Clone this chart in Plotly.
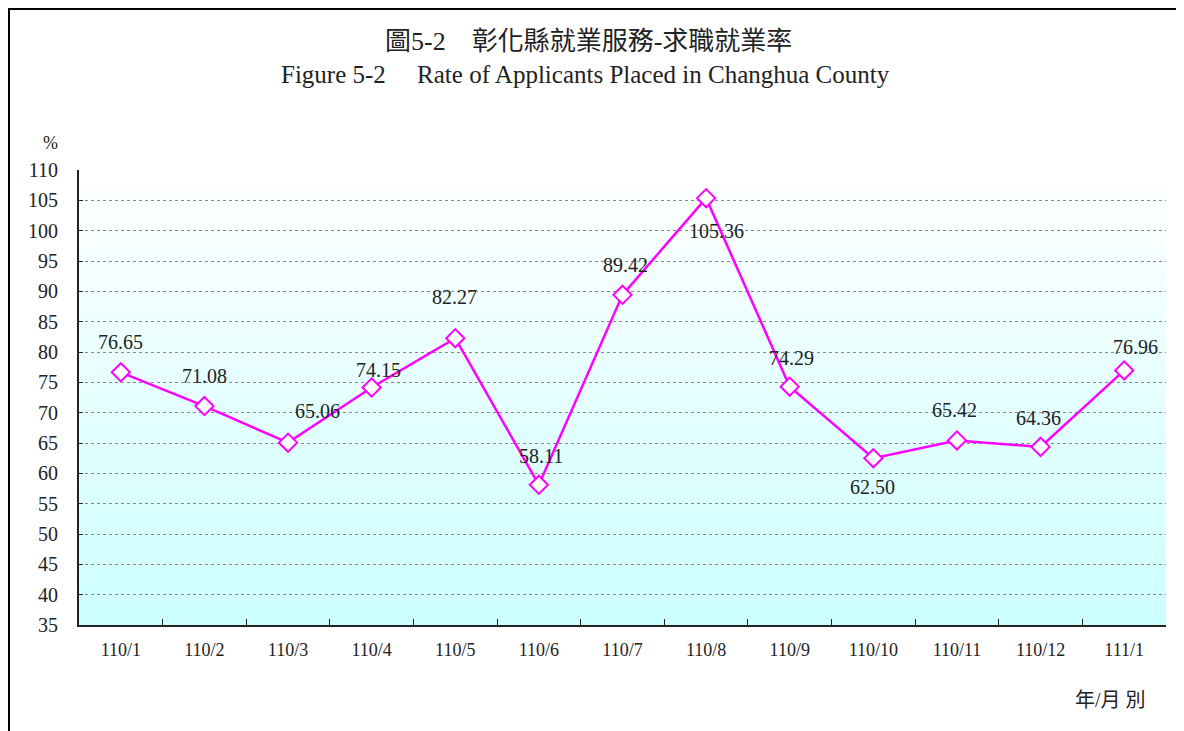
import plotly.graph_objects as go

categories = ["110/1", "110/2", "110/3", "110/4", "110/5", "110/6", "110/7",
              "110/8", "110/9", "110/10", "110/11", "110/12", "111/1"]
rates = [76.65, 71.08, 65.06, 74.15, 82.27, 58.11, 89.42,
         105.36, 74.29, 62.50, 65.42, 64.36, 76.96]
y_ticks = list(range(35, 111, 5))

# label offsets (pixels) for data labels
label_dx = [0, 0, 29, 7, -1, 2, 3, 10, 2, -1, -2, -2, 11]
label_dy = [30, 30, 32, 17, 41, 29, 30, -33, 29, -29, 30, 29, 23]

SERIF = "Liberation Serif"
CJK = "Liberation Serif, Noto Sans CJK TC"

# page body has an 8px margin, so the figure is drawn 8px in from the window
W, H = 1176, 723

fig = go.Figure()
fig.add_trace(go.Scatter(
    x=categories, y=rates, mode="lines+markers",
    line=dict(color="#FF00FF", width=2.5),
    marker=dict(symbol="diamond", size=14, color="white",
                line=dict(color="#FF00FF", width=2)),
    hoverinfo="x+y", showlegend=False,
))

# gradient plot background: white at top -> light cyan at bottom
n = 60
shapes = []
for i in range(n):
    t = (i + 0.5) / n  # 0 bottom .. 1 top
    r = int(round(0xCC + (0xFF - 0xCC) * t))
    col = f"rgb({r},255,255)"
    shapes.append(dict(type="rect", xref="x domain", yref="y domain",
                       x0=0, x1=1, y0=i / n, y1=(i + 1) / n + 0.002,
                       fillcolor=col, line=dict(width=0), layer="below"))
# outer frame lines (top and left), at the very edge of the figure
shapes.append(dict(type="line", xref="paper", yref="paper",
                   x0=(9 - 79) / 1087, x1=(1190 - 79) / 1087,
                   y0=(625 - 9) / 455, y1=(625 - 9) / 455,
                   line=dict(color="black", width=2)))
shapes.append(dict(type="line", xref="paper", yref="paper",
                   x0=(9 - 79) / 1087, x1=(9 - 79) / 1087,
                   y0=(625 - 8) / 455, y1=(625 - 740) / 455,
                   line=dict(color="black", width=2)))
fig.update_layout(shapes=shapes)

annotations = []
for c, v, dx, dy in zip(categories, rates, label_dx, label_dy):
    annotations.append(dict(x=c, y=v, text=f"{v:.2f}", showarrow=False,
                            xshift=dx, yshift=dy,
                            font=dict(family=SERIF, size=20, color="#222222")))
annotations += [
    dict(xref="paper", yref="paper", x=(588 - 79) / 1087, y=(625 - 42) / 455,
         yanchor="middle", xanchor="center", showarrow=False,
         text="圖5-2　彰化縣就業服務-求職就業率",
         font=dict(family=CJK, size=26, color="#222222")),
    dict(xref="paper", yref="paper", x=(585 - 79) / 1087, y=(625 - 74) / 455,
         yanchor="middle", xanchor="center", showarrow=False,
         text="Figure 5-2　 Rate of Applicants Placed in Changhua County",
         font=dict(family=SERIF, size=25, color="#222222")),
    dict(xref="paper", yref="paper", x=(50 - 79) / 1087, y=(625 - 143) / 455,
         yanchor="middle", xanchor="center", showarrow=False, text="%",
         font=dict(family=SERIF, size=18, color="#222222")),
    dict(xref="paper", yref="paper", x=(1110 - 79) / 1087, y=(625 - 700) / 455,
         yanchor="middle", xanchor="center", showarrow=False, text="年/月 別",
         font=dict(family=CJK, size=20, color="#222222")),
]

fig.update_layout(
    width=W, height=H,
    margin=dict(l=71, r=18, t=162, b=106, pad=0),
    paper_bgcolor="white", plot_bgcolor="rgba(0,0,0,0)",
    annotations=annotations,
    xaxis=dict(type="category", range=[-0.5, 12.5], tickson="boundaries",
               ticks="inside", ticklen=6, tickcolor="#222", showgrid=False,
               showline=True, linecolor="#222", linewidth=2,
               tickfont=dict(family=SERIF, size=18, color="#222222"),
               zeroline=False, ticklabelstandoff=7),
    yaxis=dict(range=[35, 110], tickvals=y_ticks, ticks="inside", ticklen=4,
               tickcolor="#222", showline=True, linecolor="#222", linewidth=2,
               showgrid=True, gridcolor="#888888", griddash="dot", gridwidth=1,
               tickfont=dict(family=SERIF, size=20, color="#222222"),
               zeroline=False, ticklabelstandoff=15),
)

fig.write_html("out.html")
